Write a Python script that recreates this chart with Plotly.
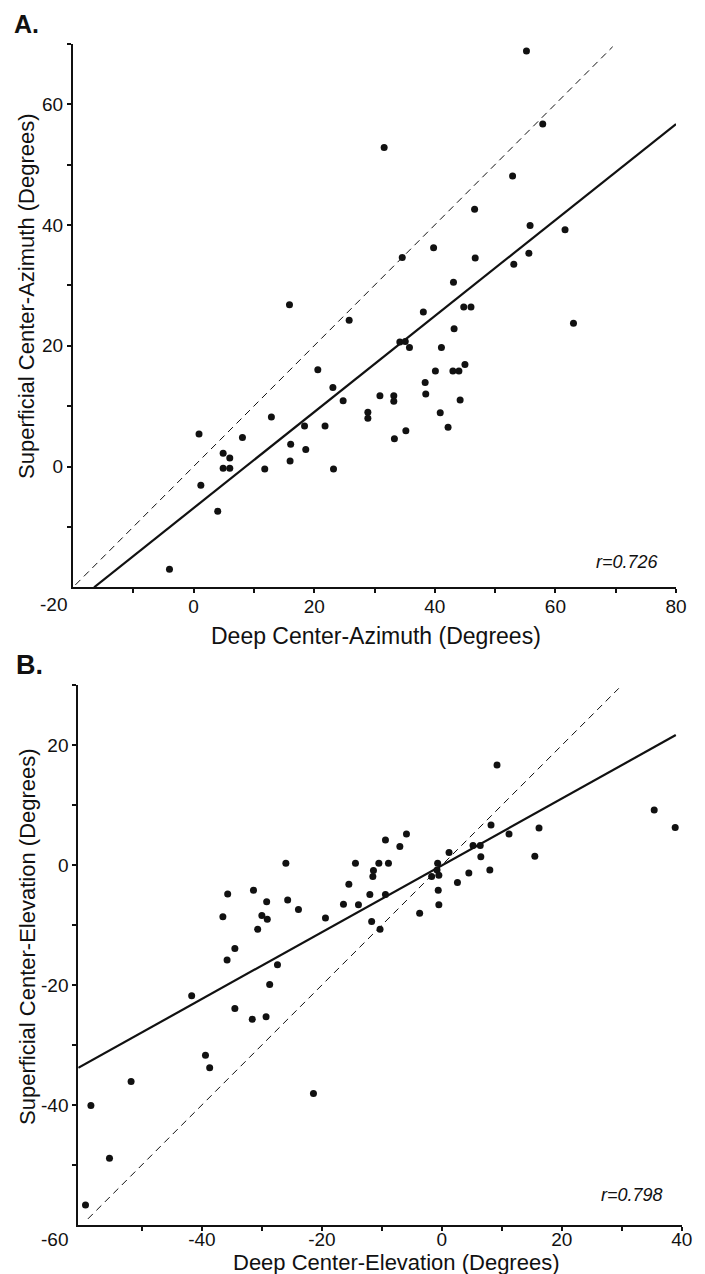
import plotly.graph_objects as go

W, H = 705, 1274

# ---------------- Panel A data (azimuth) ----------------
az_deep = [15.9, 25.8, 20.6, 23.1, 24.8, 12.9, 18.4, 21.8, 0.9, 8.1, 16.1, 18.6, 4.9, 6.0,
           16.0, 4.9, 6.0, 11.8, 23.2, 1.2, 4.0, -4.0,
           55.2, 57.9, 31.6, 52.9, 46.6, 55.8, 61.6, 39.8, 34.6, 46.7, 55.6, 53.1, 43.1,
           44.8, 46.0, 38.1,
           63.0, 43.2, 34.2, 35.1, 35.8, 41.1, 45.0, 40.1, 43.0, 44.0, 38.4, 38.5, 30.9,
           33.2, 33.2, 44.2, 28.9, 28.9, 40.9, 42.2, 35.2, 33.3]
az_sup = [26.8, 24.2, 16.0, 13.1, 10.9, 8.2, 6.7, 6.7, 5.4, 4.8, 3.7, 2.8, 2.2, 1.4,
          0.9, -0.3, -0.3, -0.4, -0.4, -3.1, -7.4, -17.0,
          68.8, 56.7, 52.8, 48.1, 42.6, 39.9, 39.2, 36.2, 34.6, 34.5, 35.3, 33.5, 30.5,
          26.4, 26.4, 25.6,
          23.7, 22.8, 20.6, 20.7, 19.7, 19.7, 16.9, 15.8, 15.8, 15.8, 13.9, 12.0, 11.7,
          11.7, 10.8, 11.0, 9.0, 8.0, 8.9, 6.5, 5.9, 4.6]
az_fit_x = [-16.5, 80.0]
az_fit_y = [-20.0, 56.7]
az_id = [-19.6, 69.5]
az_r = "r=0.726"

# ---------------- Panel B data (elevation) ----------------
el_deep = [-26.0, -14.4, -35.7, -31.4, -15.5, -29.2, -25.7, -23.9, -16.4, -13.9, -36.5,
           -30.0, -29.1, -19.4, -30.7, -34.5, -35.8,
           9.2, 35.4, 38.9, 16.2, 8.2, 11.2, -5.9, -9.4, -7.0, 5.2, 6.4, 1.2, -10.5, -8.9,
           -0.7, -11.4, -11.5, -0.8, -1.7, -0.5, 6.5, 15.5, 8.0, 4.5, 2.6, -0.6, -12.0,
           -9.4, -0.5, -3.7, -11.7, -10.3,
           -27.4, -28.7, -41.7, -34.5, -31.6, -29.3, -39.4, -38.7, -51.8, -21.4, -58.5,
           -55.4, -59.4]
el_sup = [0.3, 0.3, -4.8, -4.2, -3.2, -6.1, -5.8, -7.4, -6.5, -6.6, -8.6,
          -8.4, -9.0, -8.8, -10.7, -13.9, -15.8,
          16.7, 9.2, 6.3, 6.2, 6.7, 5.2, 5.2, 4.2, 3.1, 3.3, 3.3, 2.1, 0.3, 0.3,
          0.3, -0.9, -1.9, -0.8, -1.9, -1.7, 1.4, 1.5, -0.8, -1.3, -2.9, -4.2, -4.9,
          -4.9, -6.6, -8.0, -9.4, -10.7,
          -16.6, -19.9, -21.8, -23.9, -25.7, -25.3, -31.7, -33.8, -36.1, -38.1, -40.1,
          -48.9, -56.7]
el_fit_x = [-60.6, 39.0]
el_fit_y = [-33.8, 21.7]
el_id = [-59.0, 29.5]
el_r = "r=0.798"

# Tick definitions
az_xticks = [-10, 0, 10, 20, 30, 40, 50, 60, 70, 80]
az_xtext = ["", "0", "", "20", "", "40", "", "60", "", "80"]
az_yticks = [-10, 0, 10, 20, 30, 40, 50, 60, 70]
az_ytext = ["", "0", "", "20", "", "40", "", "60", ""]
el_xticks = [-50, -40, -30, -20, -10, 0, 10, 20, 30, 40]
el_xtext = ["", "-40", "", "-20", "", "0", "", "20", "", "40"]
el_yticks = [-50, -40, -30, -20, -10, 0, 10, 20, 30]
el_ytext = ["", "-40", "", "-20", "", "0", "", "20", ""]

FONT = "Liberation Sans"
BLACK = "#111111"


def px_x(p):
    return p / W


def px_y(p):
    return 1 - p / H


fig = go.Figure()

# Panel A traces
fig.add_trace(go.Scatter(x=az_id, y=az_id, mode="lines", xaxis="x", yaxis="y",
                         line=dict(color=BLACK, width=1, dash="7px,5px"), showlegend=False))
fig.add_trace(go.Scatter(x=az_fit_x, y=az_fit_y, mode="lines", xaxis="x", yaxis="y",
                         line=dict(color=BLACK, width=2.2), showlegend=False))
fig.add_trace(go.Scatter(x=az_deep, y=az_sup, mode="markers", xaxis="x", yaxis="y",
                         marker=dict(color=BLACK, size=7), showlegend=False))

# Panel B traces
fig.add_trace(go.Scatter(x=el_id, y=el_id, mode="lines", xaxis="x2", yaxis="y2",
                         line=dict(color=BLACK, width=1, dash="7px,5px"), showlegend=False))
fig.add_trace(go.Scatter(x=el_fit_x, y=el_fit_y, mode="lines", xaxis="x2", yaxis="y2",
                         line=dict(color=BLACK, width=2.2), showlegend=False))
fig.add_trace(go.Scatter(x=el_deep, y=el_sup, mode="markers", xaxis="x2", yaxis="y2",
                         marker=dict(color=BLACK, size=7), showlegend=False))

axis_common = dict(showgrid=False, zeroline=False, showline=True, linecolor=BLACK,
                   linewidth=2, ticks="outside", ticklen=4, tickwidth=1.5,
                   tickcolor=BLACK, tickfont=dict(family=FONT, size=19, color=BLACK),
                   tickmode="array", fixedrange=True, automargin=False)

fig.update_layout(
    width=W, height=H,
    margin=dict(l=0, r=0, t=0, b=0, autoexpand=False),
    paper_bgcolor="white", plot_bgcolor="white",
    font=dict(family=FONT, color=BLACK),
    xaxis=dict(axis_common, domain=[px_x(73), px_x(676)], range=[-20, 80],
               tickvals=az_xticks, ticktext=az_xtext, anchor="y", ticklabelstandoff=-3),
    yaxis=dict(axis_common, domain=[px_y(587.3), px_y(43.7)], range=[-20, 70],
               tickvals=az_yticks, ticktext=az_ytext, anchor="x"),
    xaxis2=dict(axis_common, domain=[px_x(78.3), px_x(681.8)], range=[-60.6, 40],
                tickvals=el_xticks, ticktext=el_xtext, anchor="y2", ticklabelstandoff=-8),
    yaxis2=dict(axis_common, domain=[px_y(1224.9), px_y(685.3)], range=[-60, 30],
                tickvals=el_yticks, ticktext=el_ytext, anchor="x2"),
)

ann = []
# Panel letters
ann.append(dict(text="<b>A.</b>", x=px_x(12), y=px_y(24), xref="paper", yref="paper",
                xanchor="left", yanchor="middle", showarrow=False,
                font=dict(family=FONT, size=25, color=BLACK)))
ann.append(dict(text="<b>B.</b>", x=px_x(14), y=px_y(665), xref="paper", yref="paper",
                xanchor="left", yanchor="middle", showarrow=False,
                font=dict(family=FONT, size=27, color=BLACK)))
# Axis titles
ann.append(dict(text="Superficial Center-Azimuth (Degrees)", x=px_x(27), y=px_y(296),
                xref="paper", yref="paper", textangle=-90, showarrow=False,
                xanchor="center", yanchor="middle",
                font=dict(family=FONT, size=22, color=BLACK)))
ann.append(dict(text="Deep Center-Azimuth (Degrees)", x=px_x(376), y=px_y(636),
                xref="paper", yref="paper", showarrow=False,
                xanchor="center", yanchor="middle",
                font=dict(family=FONT, size=23, color=BLACK)))
ann.append(dict(text="Superficial Center-Elevation (Degrees)", x=px_x(27), y=px_y(937),
                xref="paper", yref="paper", textangle=-90, showarrow=False,
                xanchor="center", yanchor="middle",
                font=dict(family=FONT, size=22, color=BLACK)))
ann.append(dict(text="Deep Center-Elevation (Degrees)", x=px_x(396), y=px_y(1262),
                xref="paper", yref="paper", showarrow=False,
                xanchor="center", yanchor="middle",
                font=dict(family=FONT, size=22, color=BLACK)))
# Corner tick labels
ann.append(dict(text="-20", x=-20, y=px_y(604), xref="x", yref="paper", showarrow=False,
                xanchor="right", yanchor="middle", xshift=-4,
                font=dict(family=FONT, size=19, color=BLACK)))
ann.append(dict(text="-60", x=-60.6, y=px_y(1239), xref="x2", yref="paper", showarrow=False,
                xanchor="right", yanchor="middle", xshift=-8,
                font=dict(family=FONT, size=19, color=BLACK)))
# Correlation coefficients
ann.append(dict(text="<i>" + az_r + "</i>", x=px_x(627), y=px_y(562), xref="paper",
                yref="paper", showarrow=False, xanchor="center", yanchor="middle",
                font=dict(family=FONT, size=18, color=BLACK)))
ann.append(dict(text="<i>" + el_r + "</i>", x=px_x(632), y=px_y(1195), xref="paper",
                yref="paper", showarrow=False, xanchor="center", yanchor="middle",
                font=dict(family=FONT, size=18, color=BLACK)))

fig.update_layout(annotations=ann)

# remove the default 8px page margin so the figure sits at the window's origin
fig.write_html("out.html",
               config={"displayModeBar": False},
               post_script="document.body.style.margin='0';document.body.style.overflow='hidden';")
